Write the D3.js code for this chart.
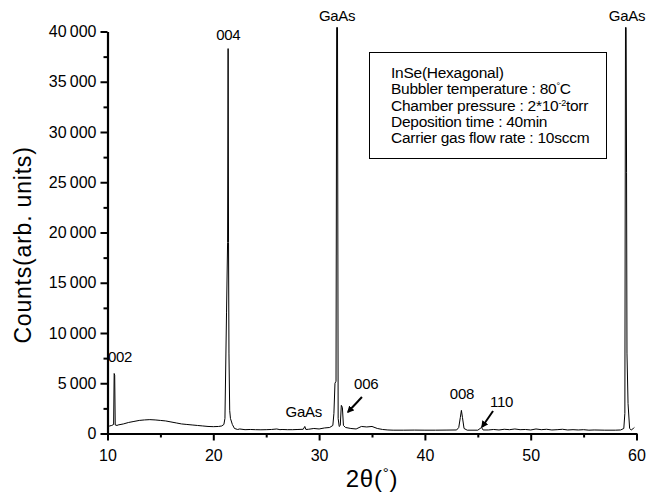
<!DOCTYPE html>
<html><head><meta charset="utf-8">
<script src="https://cdn.jsdelivr.net/npm/d3@7"></script>
<style>body{margin:0;background:#fff}svg{display:block}text{font-family:"Liberation Sans",Arial,sans-serif;fill:#000}</style>
</head><body>
<svg id="c" width="646" height="492"></svg>
<script>
const twoTheta = [10.0,10.2,10.4,10.58,10.63,10.68,10.73,10.9,11.0,11.5,12.0,12.5,13.0,13.5,14.0,14.5,15.0,15.5,16.0,16.5,17.0,17.5,18.0,18.5,19.0,19.5,20.0,20.5,20.8,21.0,21.1,21.25,21.35,21.4,21.44,21.48,21.55,21.62,21.8,22.0,22.3,22.5,23.0,23.5,24.0,24.5,25.0,25.5,26.0,26.3,26.5,27.0,27.5,28.0,28.5,28.65,28.75,29.0,29.5,30.0,30.5,31.0,31.3,31.4,31.5,31.6,31.66,31.74,31.8,31.9,32.0,32.1,32.2,32.3,32.5,33.0,33.5,34.0,34.5,35.0,35.5,36.0,36.5,37.0,38.0,39.0,40.0,41.0,42.0,43.0,43.2,43.35,43.45,43.55,43.7,44.0,45.0,45.35,45.5,46.0,46.5,47.0,47.5,48.0,48.5,49.0,49.5,50.0,50.5,51.0,51.5,52.0,52.5,53.0,53.5,54.0,54.5,55.0,55.5,56.0,57.0,58.0,58.5,58.8,58.9,58.96,59.02,59.06,59.1,59.2,59.35,59.5,59.7,59.8];
const counts = [550,750,800,900,5970,5800,850,800,850,950,1100,1200,1300,1350,1380,1350,1300,1250,1150,1050,950,900,850,800,750,700,680,700,750,900,1500,12000,19000,38300,19000,8000,2300,1500,900,500,400,450,380,400,380,370,380,400,450,380,400,380,380,400,420,700,400,420,500,450,550,600,800,2000,5000,5200,40400,40400,1500,700,800,2800,2600,800,600,500,450,700,650,700,500,400,350,330,330,340,330,330,340,350,600,1600,2300,1600,500,330,330,600,350,350,400,350,420,380,450,380,400,350,450,380,420,350,380,420,350,380,350,380,330,350,330,330,350,500,2000,40400,40400,26000,8000,3000,500,350,500,600];
const xTicks = [10,20,30,40,50,60];
const xMinor = [15,25,35,45,55];
const yTicks = [0,5000,10000,15000,20000,25000,30000,35000,40000];
const yMinor = [2500,7500,12500,17500,22500,27500,32500,37500];
const legendLines = ["InSe(Hexagonal)","Bubbler temperature : 80°C","Chamber pressure : 2*10-2torr","Deposition time : 40min","Carrier gas flow rate : 10sccm"];
const peakLabels = [
  {t:"002", x:10.05, y:7100, anchor:"start"},
  {t:"004", x:21.42, y:39200, anchor:"middle"},
  {t:"GaAs", x:31.7, y:41000, anchor:"middle"},
  {t:"GaAs", x:59.1, y:41000, anchor:"middle"},
  {t:"GaAs", x:28.55, y:1650, anchor:"middle"},
  {t:"006", x:34.45, y:4450, anchor:"middle"},
  {t:"008", x:43.5, y:3430, anchor:"middle"},
  {t:"110", x:47.25, y:2670, anchor:"middle"}
];
const arrows = [
  {x1:34.05, y1:3630, x2:32.73, y2:2140},
  {x1:46.44, y1:2240, x2:45.4, y2:650}
];

const svg = d3.select("#c");
const x = d3.scaleLinear().domain([10,60]).range([107.5,636.5]);
const y = d3.scaleLinear().domain([0,40000]).range([433.5,31.5]);

svg.append("defs").append("marker").attr("id","ah").attr("viewBox","0 0 10 10")
  .attr("refX",8).attr("refY",5).attr("markerWidth",3.5).attr("markerHeight",3.5).attr("orient","auto")
  .append("path").attr("d","M0,0L10,5L0,10z").attr("fill","#000");

// data line
svg.append("path").datum(twoTheta.map((d,i)=>[d,counts[i]]))
  .attr("d", d3.line().x(d=>x(d[0])).y(d=>y(d[1])))
  .attr("fill","none").attr("stroke","#000").attr("stroke-width",1);

// axes
const fmt = d => d===0 ? "0" : (Math.floor(d/1000)) + "\u2009000";
const gx = svg.append("g").attr("transform","translate(0,433.5)");
gx.call(d3.axisBottom(x).tickValues(xTicks).tickSize(7).tickSizeOuter(0).tickPadding(9));
const gxm = svg.append("g").attr("transform","translate(0,433.5)");
gxm.call(d3.axisBottom(x).tickValues(xMinor).tickSize(4).tickSizeOuter(0).tickFormat(""));
gxm.select(".domain").remove();
const gy = svg.append("g").attr("transform","translate(107.5,0)");
gy.call(d3.axisLeft(y).tickValues(yTicks).tickSize(7).tickSizeOuter(0).tickPadding(4).tickFormat(fmt));
const gym = svg.append("g").attr("transform","translate(107.5,0)");
gym.call(d3.axisLeft(y).tickValues(yMinor).tickSize(4).tickSizeOuter(0).tickFormat(""));
gym.select(".domain").remove();
svg.selectAll(".domain").attr("stroke","#000").attr("stroke-width",2.2);
svg.selectAll(".tick line").attr("stroke","#000").attr("stroke-width",2);
svg.selectAll(".tick text").attr("font-family","Liberation Sans, Arial, sans-serif").attr("font-size",16).attr("fill","#000");

// axis titles
svg.append("text").attr("transform","translate(31,245) rotate(-90)").attr("text-anchor","middle")
  .attr("font-size",23).attr("letter-spacing",0.8).text("Counts(arb. units)");
const xt = svg.append("text").attr("x",372).attr("y",487).attr("text-anchor","middle").attr("font-size",24).attr("letter-spacing",0.8);
xt.append("tspan").text("2θ(");
xt.append("tspan").attr("font-size",15).attr("dy",-9).text("°");
xt.append("tspan").attr("dy",9).text(")");

// peak labels
peakLabels.forEach(p=>{
  svg.append("text").attr("x",x(p.x)).attr("y",y(p.y)).attr("text-anchor",p.anchor)
    .attr("font-size",15).attr("letter-spacing",-0.3).text(p.t);
});
arrows.forEach(a=>{
  svg.append("line").attr("x1",x(a.x1)).attr("y1",y(a.y1)).attr("x2",x(a.x2)).attr("y2",y(a.y2))
    .attr("stroke","#000").attr("stroke-width",2).attr("marker-end","url(#ah)");
});

// legend box
svg.append("rect").attr("x",369.5).attr("y",52.5).attr("width",237).attr("height",106)
  .attr("fill","#fff").attr("stroke","#000").attr("stroke-width",1);
legendLines.forEach((s,i)=>{
  const t = svg.append("text").attr("x",391).attr("y",78+i*16.3).attr("font-size",15.5).attr("letter-spacing",-0.25);
  if (i===1){
    t.append("tspan").text("Bubbler temperature : 80");
    t.append("tspan").attr("font-size",9).attr("dy",-5).text("°");
    t.append("tspan").attr("dy",5).text("C");
  } else if (i===2){
    t.append("tspan").text("Chamber pressure : 2*10");
    t.append("tspan").attr("font-size",9).attr("dy",-4.5).text("-2");
    t.append("tspan").attr("dy",4.5).text("torr");
  } else t.text(s);
});
</script>
</body></html>
